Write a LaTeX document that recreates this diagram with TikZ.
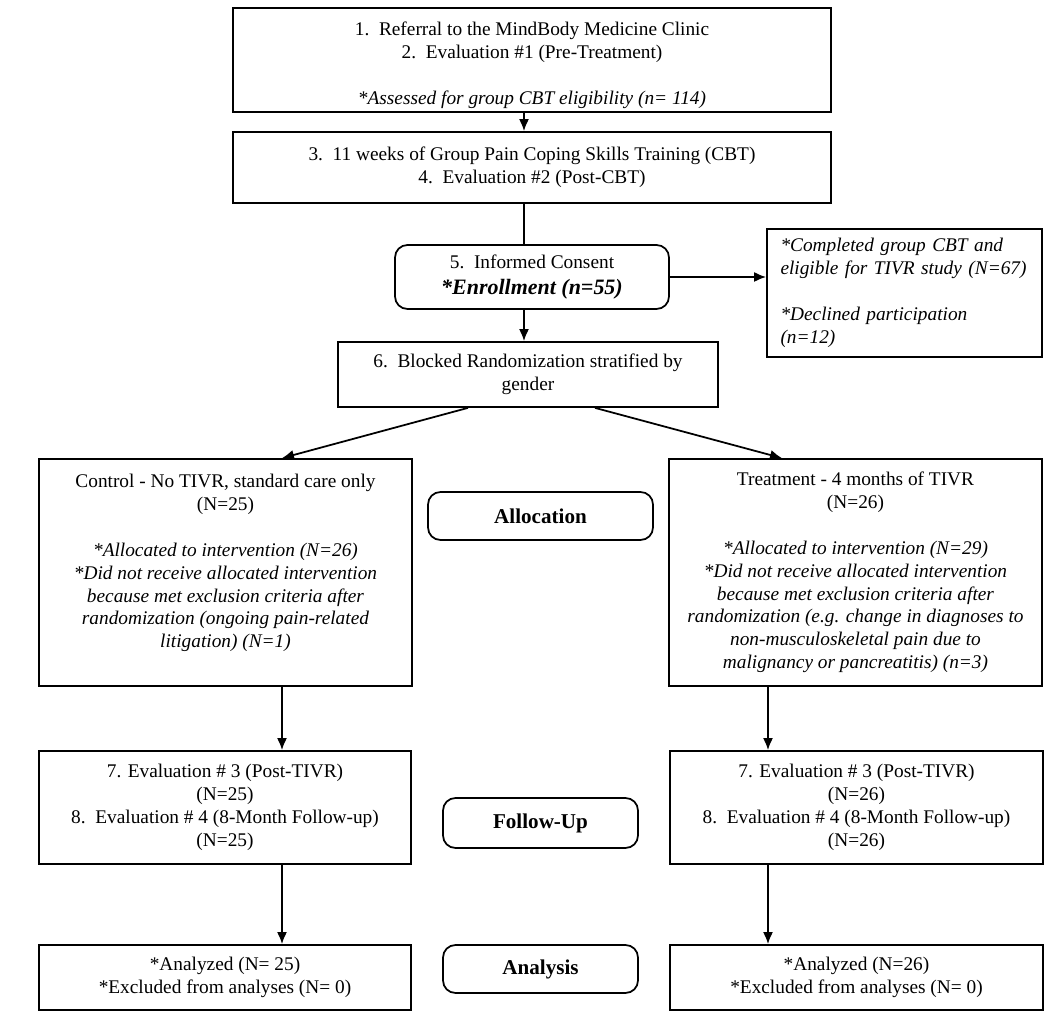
\documentclass[tikz,border=0pt]{standalone}
\usepackage{fontspec}
\setmainfont{Liberation Serif}
\usepackage{tikz}
\usetikzlibrary{arrows.meta}

\begin{document}
\begin{tikzpicture}[
    every node/.style={font=\fontsize{11}{13}\selectfont},
    box/.style={draw, line width=1pt, align=center, inner sep=2pt},
    roundbox/.style={box, rounded corners=2.5mm},
    stagebox/.style={roundbox, font=\fontsize{12}{14}\selectfont\bfseries},
    arr/.style={line width=1pt, -{Latex[length=2.4mm, width=2mm]}}
  ]
  \useasboundingbox (0,0) rectangle (21,-20.36);
  % Pre-study steps
  \node[box, minimum width=11.96cm, minimum height=2.08cm] (refer) at (10.64, -1.20)
    {\rule{0pt}{14pt}1.~~Referral to the MindBody Medicine Clinic\\
     2.~~Evaluation \#1 (Pre-Treatment)\\[13pt]
     \textit{*Assessed for group CBT eligibility (n= 114)}};
  \node[box, minimum width=11.96cm, minimum height=1.42cm] (cbt) at (10.64, -3.35)
    {3.~~11 weeks of Group Pain Coping Skills Training (CBT)\\
     4.~~Evaluation \#2 (Post-CBT)};
  \node[roundbox, minimum width=5.48cm, minimum height=1.28cm] (consent) at (10.64, -5.54)
    {5.~~Informed Consent\\[2pt]
     {\fontsize{12.5}{14}\selectfont\textbf{\textit{*Enrollment (n=55)}}}};
  \node[box, align=left, font=\fontsize{11}{13}\selectfont\itshape, text width=4.96cm,
    inner xsep=0.27cm, minimum height=2.56cm] (eligible) at (18.09, -5.86)
    {*Completed group CBT and\\ eligible for TIVR study (N=67)\\[13pt]
     *Declined participation\\ (n=12)};
  \node[box, minimum width=7.60cm, minimum height=1.30cm] (random) at (10.56, -7.49)
    {6.~~Blocked Randomization stratified by\\ gender};
  % Allocation
  \node[box, minimum width=7.46cm, minimum height=4.54cm] (control) at (4.51, -11.45)
    {Control - No TIVR, standard care only\\ (N=25)\\[13pt]
     \textit{*Allocated to intervention (N=26)}\\
     \textit{*Did not receive allocated intervention}\\
     \textit{because met exclusion criteria after}\\
     \textit{randomization (ongoing pain-related}\\
     \textit{litigation) (N=1)}\\ \mbox{}};
  \node[stagebox, minimum width=4.50cm, minimum height=0.96cm] (alloc) at (10.81, -10.32) {Allocation};
  \node[box, minimum width=7.46cm, minimum height=4.54cm] (treat) at (17.11, -11.45)
    {Treatment - 4 months of TIVR\\ (N=26)\\[13pt]
     \textit{*Allocated to intervention (N=29)}\\
     \textit{*Did not receive allocated intervention}\\
     \textit{because met exclusion criteria after}\\
     \textit{randomization (e.g. change in diagnoses to}\\
     \textit{non-musculoskeletal pain due to}\\
     \textit{malignancy or pancreatitis) (n=3)}};
  % Follow-up
  \node[box, minimum width=7.44cm, minimum height=2.26cm] (evalL) at (4.50, -16.15)
    {7. Evaluation \# 3 (Post-TIVR)\\ (N=25)\\ 8.~~Evaluation \# 4 (8-Month Follow-up)\\ (N=25)};
  \node[stagebox, minimum width=3.90cm, minimum height=1.00cm] (follow) at (10.81, -16.46) {Follow-Up};
  \node[box, minimum width=7.46cm, minimum height=2.26cm] (evalR) at (17.13, -16.15)
    {7. Evaluation \# 3 (Post-TIVR)\\ (N=26)\\ 8.~~Evaluation \# 4 (8-Month Follow-up)\\ (N=26)};
  % Analysis
  \node[box, minimum width=7.44cm, minimum height=1.30cm] (anaL) at (4.50, -19.55)
    {*Analyzed (N= 25)\\ *Excluded from analyses (N= 0)};
  \node[stagebox, minimum width=3.90cm, minimum height=0.96cm] (analysis) at (10.81, -19.38) {Analysis};
  \node[box, minimum width=7.46cm, minimum height=1.30cm] (anaR) at (17.13, -19.55)
    {*Analyzed (N=26)\\ *Excluded from analyses (N= 0)};
  % Connectors
  \draw[arr] ([xshift=-1.6mm]refer.south) -- ([xshift=-1.6mm]cbt.north);
  \draw[line width=1pt] ([xshift=-1.6mm]cbt.south) -- ([xshift=-1.6mm]consent.north);
  \draw[arr] (consent.east) -- (consent.east -| eligible.west);
  \draw[arr] ([xshift=-1.6mm]consent.south) -- ([xshift=-0.8mm]random.north);
  \draw[arr] ([xshift=-12mm]random.south) -- ([xshift=11.3mm]control.north);
  \draw[arr] ([xshift=13.4mm]random.south) -- ([xshift=-14.7mm]treat.north);
  \draw[arr] ([xshift=11.3mm]control.south) -- ([xshift=11.4mm]evalL.north);
  \draw[arr] ([xshift=-17.5mm]treat.south) -- ([xshift=-17.7mm]evalR.north);
  \draw[arr] ([xshift=11.4mm]evalL.south) -- ([xshift=11.4mm]anaL.north);
  \draw[arr] ([xshift=-17.7mm]evalR.south) -- ([xshift=-17.7mm]anaR.north);
\end{tikzpicture}
\end{document}
